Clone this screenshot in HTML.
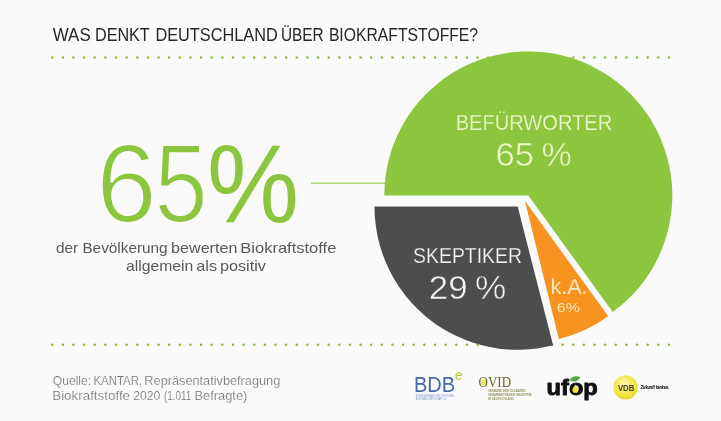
<!DOCTYPE html>
<html lang="de"><head><meta charset="utf-8"><title>Was denkt Deutschland über Biokraftstoffe?</title>
<style>
html,body{margin:0;padding:0;background:#fafafa;}
body{width:721px;height:421px;overflow:hidden;font-family:"Liberation Sans",sans-serif;}
svg{display:block}
text{font-family:"Liberation Sans",sans-serif}
.serif{font-family:"Liberation Serif",serif}
</style></head><body>
<svg width="721" height="421" viewBox="0 0 721 421">
<defs>
<radialGradient id="vdbg" cx="0.45" cy="0.36" r="0.68">
<stop offset="0" stop-color="#fbf8b4"/><stop offset="0.55" stop-color="#f3e850"/><stop offset="0.88" stop-color="#e9dc34"/><stop offset="1" stop-color="#d6c83a"/>
</radialGradient>
</defs>
<rect width="721" height="421" fill="#fafafa"/>
<g stroke="#8dbd48" stroke-width="2.6" stroke-linecap="round" stroke-dasharray="0 10.634" fill="none"><line x1="52.2" y1="57.5" x2="669.2" y2="57.5"/><line x1="52.2" y1="344.8" x2="669.2" y2="344.8"/></g>
<text y="40.8" font-size="18" fill="#262626" ><tspan x="52.76" textLength="37.93" lengthAdjust="spacingAndGlyphs" >WAS</tspan> <tspan x="94.96" textLength="54.5" lengthAdjust="spacingAndGlyphs" >DENKT</tspan> <tspan x="155.44" textLength="122.27" lengthAdjust="spacingAndGlyphs" >DEUTSCHLAND</tspan> <tspan x="280.92" textLength="42.75" lengthAdjust="spacingAndGlyphs" >ÜBER</tspan> <tspan x="328.89" textLength="149.23" lengthAdjust="spacingAndGlyphs" >BIOKRAFTSTOFFE?</tspan></text>

<rect x="311" y="182.6" width="75" height="1.1" fill="#8cc63f"/>
<path d="M528.30,195.40 L384.30,195.40 A144,144 0 1 1 612.74,312.05 Z" fill="#8cc63f"/>
<path d="M517.70,206.60 L553.07,345.36 A143.2,143.2 0 0 1 374.50,206.60 Z" fill="#4d4d4d"/>
<path d="M524.90,200.80 L608.20,316.30 A142.4,142.4 0 0 1 558.87,339.09 Z" fill="#f7931e"/>

<text y="221.6" font-size="111" fill="#8cc63f" stroke="#fafafa" stroke-width="2"><tspan x="96.26" textLength="60.52" lengthAdjust="spacingAndGlyphs" >6</tspan><tspan x="154.43" textLength="53.15" lengthAdjust="spacingAndGlyphs" >5</tspan><tspan x="207.07" textLength="92.01" lengthAdjust="spacingAndGlyphs" stroke="none">%</tspan></text>

<text y="252.7" font-size="14.8" fill="#595959" ><tspan x="55.92" textLength="22.18" lengthAdjust="spacingAndGlyphs" >der</tspan> <tspan x="82.4" textLength="85.25" lengthAdjust="spacingAndGlyphs" >Bevölkerung</tspan> <tspan x="171.11" textLength="66.24" lengthAdjust="spacingAndGlyphs" >bewerten</tspan> <tspan x="240.31" textLength="96.06" lengthAdjust="spacingAndGlyphs" >Biokraftstoffe</tspan></text>
<text y="270.9" font-size="14.8" fill="#595959" ><tspan x="125.9" textLength="67.4" lengthAdjust="spacingAndGlyphs" >allgemein</tspan> <tspan x="196.28" textLength="20.76" lengthAdjust="spacingAndGlyphs" >als</tspan> <tspan x="220.01" textLength="45.92" lengthAdjust="spacingAndGlyphs" >positiv</tspan></text>

<text y="384.7" font-size="12.4" fill="#6e6e6e" stroke="#fafafa" stroke-width="0.2"><tspan x="52.81" textLength="38.32" lengthAdjust="spacingAndGlyphs" >Quelle:</tspan> <tspan x="93.48" textLength="48.67" lengthAdjust="spacingAndGlyphs" >KANTAR,</tspan> <tspan x="144.37" textLength="135.91" lengthAdjust="spacingAndGlyphs" >Repräsentativbefragung</tspan></text>
<text y="399.6" font-size="12.4" fill="#6e6e6e" stroke="#fafafa" stroke-width="0.2"><tspan x="52.22" textLength="77.82" lengthAdjust="spacingAndGlyphs" >Biokraftstoffe</tspan> <tspan x="133.26" textLength="27.11" lengthAdjust="spacingAndGlyphs" >2020</tspan> <tspan x="163.9" textLength="27.48" lengthAdjust="spacingAndGlyphs" >(1.011</tspan> <tspan x="194.46" textLength="52.88" lengthAdjust="spacingAndGlyphs" >Befragte)</tspan></text>

<!-- pie labels -->
<text y="129.7" font-size="21.5" fill="#eef8cf" stroke="#8cc63f" stroke-width="0.25"><tspan x="455.67" textLength="156.6" lengthAdjust="spacingAndGlyphs" >BEFÜRWORTER</tspan></text>
<text y="165.6" font-size="34" fill="#eef8cf" stroke="#8cc63f" stroke-width="0.5"><tspan x="495.42" textLength="38.54" lengthAdjust="spacingAndGlyphs" >65</tspan> <tspan x="541.55" textLength="30.29" lengthAdjust="spacingAndGlyphs" >%</tspan></text>
<text y="262.5" font-size="21.5" fill="#f4f4f4" stroke="#4d4d4d" stroke-width="0.25"><tspan x="413.1" textLength="108.87" lengthAdjust="spacingAndGlyphs" >SKEPTIKER</tspan></text>
<text y="299.4" font-size="34" fill="#f4f4f4" stroke="#4d4d4d" stroke-width="0.5"><tspan x="428.8" textLength="38.81" lengthAdjust="spacingAndGlyphs" >29</tspan> <tspan x="475.11" textLength="31.27" lengthAdjust="spacingAndGlyphs" >%</tspan></text>
<text y="294.4" font-size="22" fill="#fde6bf" ><tspan x="550.43" textLength="37.14" lengthAdjust="spacingAndGlyphs" >k.A.</tspan></text>
<text y="311.7" font-size="12.5" fill="#fde6bf" ><tspan x="556.84" textLength="23.1" lengthAdjust="spacingAndGlyphs" >6%</tspan></text>

<!-- logos -->
<g id="bdbe">
<text x="413.9" y="391.7" font-size="21.6" fill="#456aa8" textLength="41.3" lengthAdjust="spacingAndGlyphs">BDB</text>
<text x="454.7" y="380.4" font-size="14.5" fill="#b2cf4a">e</text>
<g fill="#4f6fae" opacity="0.75">
<text x="415.7" y="397.1" font-size="2.6" textLength="38.3" lengthAdjust="spacingAndGlyphs">BUNDESVERBAND DER DEUTSCHEN</text>
<text x="415.7" y="400.1" font-size="2.6" textLength="31" lengthAdjust="spacingAndGlyphs">BIOETHANOLWIRTSCHAFT e.V.</text>
</g>
</g>
<g id="ovid">
<ellipse cx="483.5" cy="382.2" rx="2.6" ry="3.4" fill="#ece96e"/>
<text class="serif" x="478.5" y="386.9" font-size="14.4" fill="#66662e" textLength="32.6" lengthAdjust="spacingAndGlyphs">OVID</text>
<g fill="#77773a" opacity="0.8" font-weight="bold">
<text x="488" y="392.4" font-size="2.6" textLength="38.3" lengthAdjust="spacingAndGlyphs">VERBAND DER ÖLSAATEN-</text>
<text x="488" y="396.3" font-size="2.6" textLength="43.7" lengthAdjust="spacingAndGlyphs">VERARBEITENDEN INDUSTRIE</text>
<text x="488" y="400.2" font-size="2.6" textLength="25.7" lengthAdjust="spacingAndGlyphs">IN DEUTSCHLAND</text>
</g>
</g>
<g id="ufop">
<text x="546.6" y="395.3" font-size="22.3" font-weight="bold" fill="#111" stroke="#111" stroke-width="0.9" stroke-linejoin="round" textLength="51.2" lengthAdjust="spacingAndGlyphs">ufop</text>
<path d="M575.3,384.4 C576.1,386.4 578.2,387.8 578.2,389.9 A2.9,2.9 0 1 1 572.4,389.9 C572.4,387.8 574.5,386.4 575.3,384.4Z" fill="#f1e533"/>
<path d="M569.8,380.5 C571,376.2 576,375.3 580.3,377 C578.6,381.4 573.6,382.4 569.8,380.5Z" fill="#55a546"/>
</g>
<g id="vdb">
<circle cx="625.5" cy="387.4" r="12.1" fill="url(#vdbg)"/>
<text x="617.9" y="391" font-size="9" font-weight="bold" fill="#45421e" textLength="16.4" lengthAdjust="spacingAndGlyphs">VDB</text>
<text x="640.7" y="388.8" font-size="5.2" font-weight="bold" font-style="italic" fill="#111" stroke="#111" stroke-width="0.12" textLength="28.6" lengthAdjust="spacingAndGlyphs">Zukunft tanken.</text>
</g>
</svg>
</body></html>
